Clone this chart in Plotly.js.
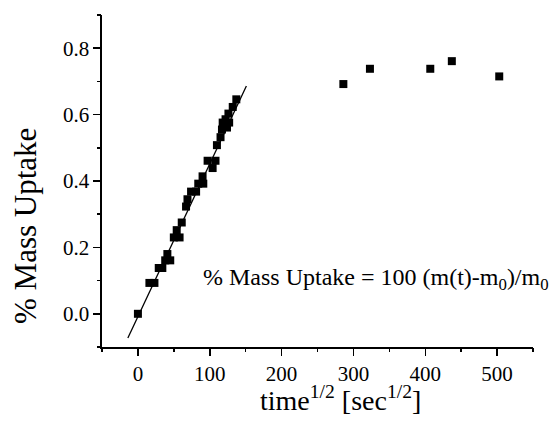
<!DOCTYPE html>
<html>
<head>
<meta charset="utf-8">
<script src="https://cdn.plot.ly/plotly-3.0.1.min.js"></script>
<style>
  html, body { margin: 0; padding: 0; background: #fff; }
  #chart { width: 556px; height: 427px; }
</style>
</head>
<body>
<div id="chart"></div>
<script>
// Early-time uptake data (sqrt time, % mass uptake)
var earlyX = [0, 16, 23, 29, 34, 38, 41, 45, 50, 54, 58, 61, 67, 69, 74, 81, 84, 90, 91, 97, 104, 108, 110, 115, 117, 118, 122, 124, 127, 126, 132, 137];
var earlyY = [0.000, 0.093, 0.093, 0.138, 0.138, 0.161, 0.180, 0.161, 0.230, 0.252, 0.230, 0.275, 0.323, 0.345, 0.368, 0.368, 0.392, 0.414, 0.392, 0.461, 0.439, 0.461, 0.508, 0.532, 0.555, 0.576, 0.586, 0.561, 0.576, 0.603, 0.623, 0.646];
// Late-time (plateau) data
var lateX = [286, 323, 407, 437, 503];
var lateY = [0.692, 0.738, 0.738, 0.761, 0.715];
// Linear fit of the early region
var fitSlope = 0.0046;
var fitIntercept = -0.0085;
var fitX = [-14, 151];
var fitY = fitX.map(function (x) { return fitSlope * x + fitIntercept; });

var xTickVals = [0, 100, 200, 300, 400, 500];
var yTickVals = [0.0, 0.2, 0.4, 0.6, 0.8];
var xMinorVals = [-50, 50, 150, 250, 350, 450, 550];
var yMinorVals = [-0.1, 0.1, 0.3, 0.5, 0.7, 0.9];

var serif = "Liberation Serif";

var traces = [
  {
    x: earlyX.concat(lateX), y: earlyY.concat(lateY),
    type: 'scatter', mode: 'markers',
    marker: { symbol: 'square', size: 8, color: '#000' },
    showlegend: false
  },
  {
    x: fitX, y: fitY,
    type: 'scatter', mode: 'lines',
    line: { color: '#000', width: 1.3 },
    showlegend: false
  },
  {
    // carrier for the minor-tick overlay axes (drawn invisibly)
    x: lateX, y: lateY, xaxis: 'x2', yaxis: 'y2',
    type: 'scatter', mode: 'markers',
    marker: { opacity: 0, size: 1 },
    showlegend: false, hoverinfo: 'skip'
  }
];

var layout = {
  width: 556, height: 427,
  margin: { l: 102, r: 23, t: 15, b: 80 },
  font: { family: serif, color: '#000', size: 21 },
  xaxis: {
    range: [-50, 550],
    tickvals: xTickVals,
    showline: true, linecolor: '#000', linewidth: 1.6,
    ticks: 'outside', ticklen: 7, tickwidth: 1.5, tickcolor: '#000',
    showgrid: false, zeroline: false,
    tickfont: { family: serif, size: 21 }
  },
  yaxis: {
    range: [-0.1, 0.9],
    tickvals: yTickVals, tickformat: '.1f',
    showline: true, linecolor: '#000', linewidth: 1.6,
    ticks: 'outside', ticklen: 7, tickwidth: 1.5, tickcolor: '#000',
    showgrid: false, zeroline: false,
    tickfont: { family: serif, size: 21 }
  },
  xaxis2: {
    overlaying: 'x', anchor: 'y', side: 'bottom',
    range: [-50, 550], tickvals: xMinorVals,
    showticklabels: false, showline: false, showgrid: false, zeroline: false,
    ticks: 'outside', ticklen: 4, tickwidth: 1.5, tickcolor: '#000'
  },
  yaxis2: {
    overlaying: 'y', anchor: 'x', side: 'left',
    range: [-0.1, 0.9], tickvals: yMinorVals,
    showticklabels: false, showline: false, showgrid: false, zeroline: false,
    ticks: 'outside', ticklen: 4, tickwidth: 1.5, tickcolor: '#000'
  },
  annotations: [
    {
      text: '% Mass Uptake = 100 (m(t)-m<sub>0</sub>)/m<sub>0</sub>',
      xref: 'paper', yref: 'paper', x: 0.229, y: 0.205,
      xanchor: 'left', yanchor: 'middle', showarrow: false,
      font: { family: serif, size: 24 }
    },
    {
      text: 'time<sup>1/2</sup> [sec<sup>1/2</sup>]',
      xref: 'paper', yref: 'paper', x: 0.5545, y: -0.155,
      xanchor: 'center', yanchor: 'middle', showarrow: false,
      font: { family: serif, size: 28 }
    },
    {
      text: '% Mass Uptake',
      xref: 'paper', yref: 'paper', x: -0.179, y: 0.364,
      xanchor: 'center', yanchor: 'middle', showarrow: false, textangle: -90,
      font: { family: serif, size: 31 }
    }
  ]
};

Plotly.newPlot('chart', traces, layout, { staticPlot: true });
</script>
</body>
</html>
